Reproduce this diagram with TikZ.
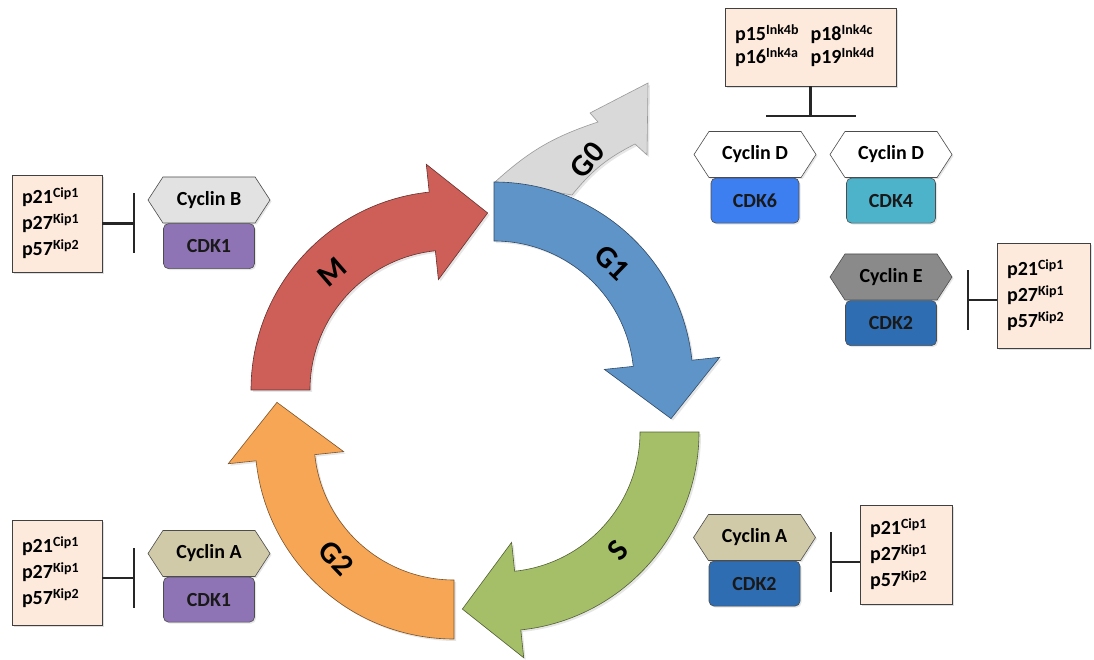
\documentclass[tikz,border=0pt]{standalone}
\usepackage{fontspec}
\setmainfont{Carlito}
\usetikzlibrary{arrows.meta,positioning,shapes.symbols,shadows}

\definecolor{inhfill}{HTML}{FDEADC}
\definecolor{cycBcol}{HTML}{E2E2E2}
\definecolor{cycAcol}{HTML}{D1CAA8}
\definecolor{cycEcol}{HTML}{8A8A8A}
\definecolor{cdkonecol}{HTML}{8E74B4}
\definecolor{cdksixcol}{HTML}{3D7EF0}
\definecolor{cdkfourcol}{HTML}{4DB3CB}
\definecolor{cdktwocol}{HTML}{2E6DB2}
\definecolor{phM}{HTML}{CD5F58}
\definecolor{phGone}{HTML}{5F94C9}
\definecolor{phS}{HTML}{A5BF69}
\definecolor{phGtwo}{HTML}{F6A654}
\definecolor{phGzero}{HTML}{D9D9D9}

\newcommand{\pinh}[2]{#1\raisebox{6pt}{\fontsize{14}{14}\selectfont #2}}

\begin{document}
\begin{tikzpicture}[x=1pt,y=1pt,
  inhbox/.style={draw=black!75,fill=inhfill,line width=0.8pt,align=left,
    font=\fontsize{20}{26}\selectfont\bfseries,inner xsep=10pt,
    drop shadow={opacity=0.25,shadow xshift=2pt,shadow yshift=-2pt}},
  cyc/.style={signal,signal to=west and east,signal pointer angle=114,
    draw=black!70,line width=0.6pt,minimum width=122pt,minimum height=46pt,inner sep=0pt,
    font=\fontsize{20}{20}\selectfont\bfseries,
    drop shadow={opacity=0.2,shadow xshift=1.5pt,shadow yshift=-1.5pt}},
  cdk/.style={draw=black!70,line width=0.6pt,rounded corners=5pt,minimum width=91pt,
    minimum height=45pt,font=\fontsize{20}{20}\selectfont\bfseries,text=black!90,
    drop shadow={opacity=0.2,shadow xshift=1.5pt,shadow yshift=-1.5pt}},
  inh/.style={line width=2.2pt,draw=black!85,-{Bar[width=60pt]}},
  phase/.style={line width=0.6pt,
    drop shadow={opacity=0.2,shadow xshift=2pt,shadow yshift=-2pt}},
  lab/.style={font=\fontsize{31}{31}\selectfont\bfseries}]
\useasboundingbox (0,0) rectangle (1094,659);

% G0 exit
\draw[phase,fill=phGzero,draw=black!40] (495,477) to[bend left=12] (598,537) -- (590,546)
  -- (648,576) -- (647,504) -- (635,515) to[bend right=12] (572,464) -- cycle;
\node[lab,rotate=50] (lG0) at (587,499) {G0};

% cycle phases
\foreach \cx/\cy/\a/\c/\t/\r [count=\i] in {450/269/180/phM/M/41,494/278/90/phGone/G1/-44,
    500/227/0/phS/S/48,454/219/270/phGtwo/G2/-46}{
  \begin{scope}[shift={(\cx,\cy)}]
  \draw[phase,fill=\c,draw=\c!50!black] (\a:199) arc[start angle=\a,end angle=\a-84,radius=199]
    -- (\a-84:227) -- (\a-102:181) -- (\a-84:111) -- (\a-84:140)
    arc[start angle=\a-84,end angle=\a,radius=140] -- cycle;
  \node[lab,rotate=\r] (ph\i) at (\a-45:167) {\t};
  \end{scope}
}

% M : cyclin B
\node[inhbox,text width=70pt,minimum height=97pt] (inhB) at (57,435.5)
  {\pinh{p21}{Cip1}\\\pinh{p27}{Kip1}\\\pinh{p57}{Kip2}};
\node[cyc,fill=cycBcol] (cycB) at (209,459) {Cyclin B};
\node[cdk,fill=cdkonecol,below=0pt of cycB] (cdkB) {CDK1};
\coordinate[right=33pt of inhB.east] (tB);
\draw[inh] (inhB.east) -- (tB);

% G1 : cyclin D
\node[inhbox,text width=151pt,minimum height=78pt] (ink) at (810.5,612)
  {\begin{tabular}{@{}l@{\hspace{12pt}}l@{}}\pinh{p15}{Ink4b} & \pinh{p18}{Ink4c}\\[-3pt]
   \pinh{p16}{Ink4a} & \pinh{p19}{Ink4d}\end{tabular}};
\node[cyc,fill=white] (cycDa) at (755,504.5) {Cyclin D};
\node[cyc,fill=white] (cycDb) at (891,504.5) {Cyclin D};
\node[cdk,fill=cdksixcol,minimum width=88pt,below=0pt of cycDa] (cdkDa) {CDK6};
\node[cdk,fill=cdkfourcol,minimum width=89pt,below=0pt of cycDb] (cdkDb) {CDK4};
\coordinate[below=31pt of ink.south] (tD);
\draw[inh,-{Bar[width=90pt]}] (ink.south) -- (tD);

% G1/S : cyclin E
\node[cyc,fill=cycEcol] (cycE) at (891,382) {Cyclin E};
\node[cdk,fill=cdktwocol,below=0pt of cycE] (cdkE) {CDK2};
\node[inhbox,text width=73pt,minimum height=105pt] (inhE) at (1043.5,363.5)
  {\pinh{p21}{Cip1}\\\pinh{p27}{Kip1}\\\pinh{p57}{Kip2}};
\coordinate (tE) at (967,359);
\draw[inh] (inhE.west |- tE) -- (tE);

% S : cyclin A / CDK2
\node[cyc,fill=cycAcol] (cycAb) at (754.5,121.5) {Cyclin A};
\node[cdk,fill=cdktwocol,below=0pt of cycAb] (cdkAb) {CDK2};
\node[inhbox,text width=72pt,minimum height=99pt] (inhAb) at (906,104.5)
  {\pinh{p21}{Cip1}\\\pinh{p27}{Kip1}\\\pinh{p57}{Kip2}};
\coordinate (tAb) at (830,97);
\draw[inh] (inhAb.west |- tAb) -- (tAb);

% G2 : cyclin A / CDK1
\node[inhbox,text width=70pt,minimum height=105pt] (inhAa) at (57,86.5)
  {\pinh{p21}{Cip1}\\\pinh{p27}{Kip1}\\\pinh{p57}{Kip2}};
\node[cyc,fill=cycAcol] (cycAa) at (209,105.5) {Cyclin A};
\node[cdk,fill=cdkonecol,below=0pt of cycAa] (cdkAa) {CDK1};
\coordinate (tAa) at (135,81);
\draw[inh] (inhAa.east |- tAa) -- (tAa);
\end{tikzpicture}
\end{document}
